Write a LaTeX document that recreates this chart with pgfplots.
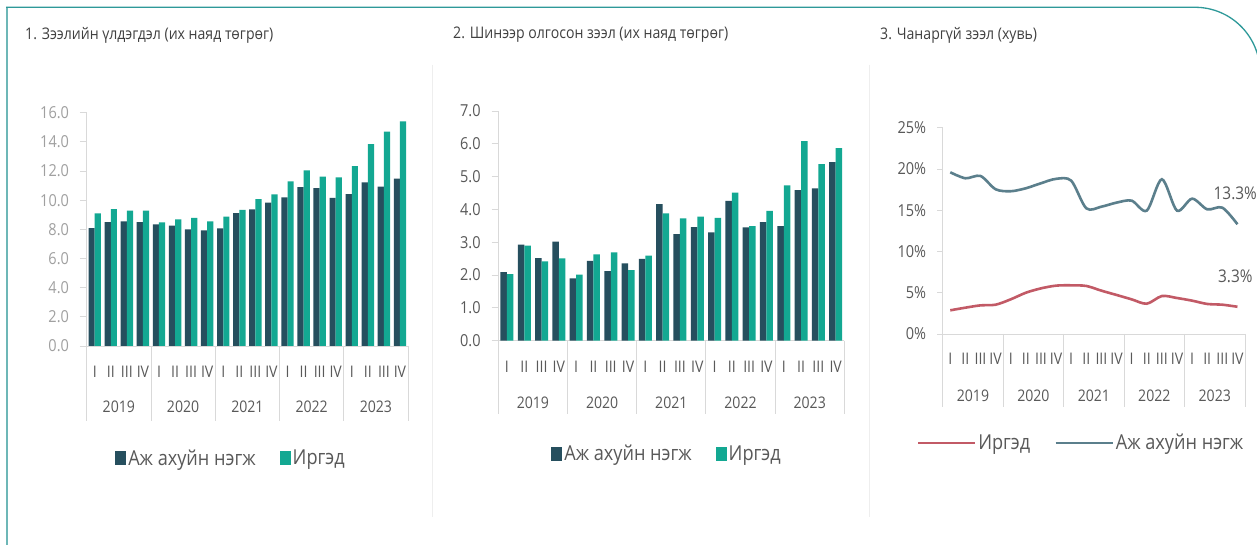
\documentclass[border=0pt]{standalone}
\usepackage{fontspec}
\setmainfont{Open Sans}[FakeStretch=0.88]
\usepackage{pgfplots}
\pgfplotsset{compat=1.18}
\definecolor{cdark}{HTML}{264F5E}
\definecolor{cteal}{HTML}{13A892}
\definecolor{cred}{HTML}{C25A66}
\definecolor{cblue}{HTML}{5B7F8C}
\definecolor{axcol}{HTML}{D9D9D9}
\definecolor{txt}{HTML}{595959}
\definecolor{txtl}{HTML}{A0A0A0}
\definecolor{ttl}{HTML}{404040}
\definecolor{frame}{HTML}{2E9999}
\definecolor{framel}{HTML}{6DB7B7}
\definecolor{divcol}{HTML}{EEEEEE}
\newcommand{\fs}[1]{\fontsize{#1}{#1}\selectfont}
\newcommand{\seps}[1]{%
  \draw[axcol, line width=0.9pt] (axis cs:0.5,0) -- ++(0pt,-#1);
  \draw[axcol, line width=0.9pt] (axis cs:4.5,0) -- ++(0pt,-#1);
  \draw[axcol, line width=0.9pt] (axis cs:8.5,0) -- ++(0pt,-#1);
  \draw[axcol, line width=0.9pt] (axis cs:12.5,0) -- ++(0pt,-#1);
  \draw[axcol, line width=0.9pt] (axis cs:16.5,0) -- ++(0pt,-#1);
  \draw[axcol, line width=0.9pt] (axis cs:20.5,0) -- ++(0pt,-#1);}
\newcommand{\years}[1]{%
  \node[yl] at (axis cs:2.5,0) [yshift=-#1] {2019};
  \node[yl] at (axis cs:6.5,0) [yshift=-#1] {2020};
  \node[yl] at (axis cs:10.5,0) [yshift=-#1] {2021};
  \node[yl] at (axis cs:14.5,0) [yshift=-#1] {2022};
  \node[yl] at (axis cs:18.5,0) [yshift=-#1] {2023};}
\tikzset{yl/.style={font=\fs{16}, text=txt, inner sep=0pt}}
\pgfplotsset{
  base/.style={scale only axis, axis lines*=left,
    axis line style={axcol, line width=0.9pt},
    xmin=0.5, xmax=20.5, ymin=0, tick align=outside, major tick length=6.7pt,
    xtick style={draw=none}, ytick style={axcol, line width=0.9pt},
    xtick={1,...,20},
    xticklabels={I,II,III,IV,I,II,III,IV,I,II,III,IV,I,II,III,IV,I,II,III,IV},
    xticklabel style={font=\fs{16}, text=txt, anchor=center, yshift=-19pt},
    yticklabel style={font=\fs{16.5}, text=txt, xshift=-7.5pt},
    clip=false,
    legend columns=2,
    legend cell align=left,
    legend style={draw=none, fill=none, font=\fs{20.6}, text=txt, anchor=center,
      /tikz/every even column/.append style={column sep=22pt},
      inner sep=0pt, row sep=0pt},
  },
  barsq/.style={legend image code/.code={\fill[##1] (0pt,-7pt) rectangle (11pt,7pt);}},
}
\begin{document}
\begin{tikzpicture}
\useasboundingbox (0,0) rectangle (1257pt,545pt);
\clip (0,0) rectangle (1257pt,545pt);
\fill[white] (0,0) rectangle (1257pt,545pt);
% frame
\draw[framel, line width=2.5pt] (7pt,538pt) -- (7pt,-5pt);
\draw[frame, line width=1.3pt] (6pt,537.7pt) -- (1195pt,537.7pt) arc[start angle=90, end angle=0, radius=65pt];
% dividers
\draw[divcol, line width=1pt] (432pt,480pt) -- (432pt,28pt);
\draw[divcol, line width=1pt] (869pt,480pt) -- (869pt,28pt);
% titles
\node[anchor=west, font=\fs{16}, text=ttl, inner sep=0pt] at (25pt,510pt) {1. Зээлийн үлдэгдэл (их наяд төгрөг)};
\node[anchor=west, font=\fs{16}, text=ttl, inner sep=0pt] at (453pt,510pt) {2. Шинээр олгосон зээл (их наяд төгрөг)};
\node[anchor=west, font=\fs{16}, text=ttl, inner sep=0pt] at (880pt,510pt) {3. Чанаргүй зээл (хувь)};

% panel 1
\begin{axis}[base, at={(86.7pt,199pt)}, anchor=south west,
  width=321.3pt, height=233.3pt, ymax=16,
  ybar=0pt, bar width=6.2pt,
  ytick={0,2,...,16},
  yticklabels={0.0,2.0,4.0,6.0,8.0,10.0,12.0,14.0,16.0},
  yticklabel style={text=txtl},
  legend style={at={(axis description cs:0.449,-0.48)}},
  barsq]
\addplot[fill=cdark, draw=none] coordinates {(1,8.09) (2,8.50) (3,8.55) (4,8.50) (5,8.34) (6,8.25) (7,8.00) (8,7.93) (9,8.07) (10,9.12) (11,9.37) (12,9.83) (13,10.19) (14,10.90) (15,10.83) (16,10.15) (17,10.42) (18,11.22) (19,10.93) (20,11.47)};
\addlegendentry{Аж ахуйн нэгж}
\addplot[fill=cteal, draw=none] coordinates {(1,9.10) (2,9.39) (3,9.28) (4,9.28) (5,8.48) (6,8.69) (7,8.78) (8,8.55) (9,8.87) (10,9.33) (11,10.08) (12,10.40) (13,11.29) (14,12.05) (15,11.61) (16,11.57) (17,12.34) (18,13.85) (19,14.70) (20,15.40)};
\addlegendentry{Иргэд}
\seps{75pt}
\years{61pt}
\end{axis}

% panel 2
\begin{axis}[base, at={(498.3pt,204.3pt)}, anchor=south west,
  width=346pt, height=229.7pt, ymax=7,
  ybar=0pt, bar width=6.5pt,
  ytick={0,1,...,7},
  yticklabels={0.0,1.0,2.0,3.0,4.0,5.0,6.0,7.0},
  legend style={at={(axis description cs:0.4876,-0.493)}},
  barsq]
\addplot[fill=cdark, draw=none] coordinates {(1,2.09) (2,2.93) (3,2.52) (4,3.02) (5,1.90) (6,2.43) (7,2.12) (8,2.36) (9,2.49) (10,4.16) (11,3.25) (12,3.46) (13,3.30) (14,4.26) (15,3.45) (16,3.61) (17,3.49) (18,4.59) (19,4.64) (20,5.44)};
\addlegendentry{Аж ахуйн нэгж}
\addplot[fill=cteal, draw=none] coordinates {(1,2.03) (2,2.90) (3,2.42) (4,2.51) (5,2.01) (6,2.63) (7,2.69) (8,2.15) (9,2.59) (10,3.88) (11,3.73) (12,3.78) (13,3.74) (14,4.51) (15,3.49) (16,3.96) (17,4.73) (18,6.08) (19,5.38) (20,5.87)};
\addlegendentry{Иргэд}
\seps{73pt}
\years{62pt}
\end{axis}

% panel 3
\begin{axis}[base, at={(942.7pt,211pt)}, anchor=south west,
  width=302.3pt, height=206.3pt, ymax=25,
  ytick={0,5,...,25},
  yticklabels={0\%,5\%,10\%,15\%,20\%,25\%},
  major tick length=5.5pt,
  legend style={at={(axis description cs:0.4575,-0.528)}},
  legend image code/.code={\draw[#1] (0pt,0pt) -- (57pt,0pt);}]
\addplot[cred, line width=2.6pt, smooth, tension=0.5] coordinates {(1,2.87) (2,3.19) (3,3.47) (4,3.55) (5,4.20) (6,5.00) (7,5.53) (8,5.86) (9,5.90) (10,5.82) (11,5.25) (12,4.73) (13,4.20) (14,3.67) (15,4.60) (16,4.36) (17,4.04) (18,3.64) (19,3.55) (20,3.30)};
\addlegendentry{Иргэд}
\addplot[cblue, line width=2.6pt, smooth, tension=0.5] coordinates {(1,19.60) (2,18.87) (3,19.15) (4,17.54) (5,17.30) (6,17.66) (7,18.27) (8,18.80) (9,18.58) (10,15.23) (11,15.43) (12,15.92) (13,16.16) (14,14.95) (15,18.75) (16,14.95) (17,16.40) (18,15.11) (19,15.31) (20,13.30)};
\addlegendentry{Аж ахуйн нэгж}
\node[anchor=west, font=\fs{17.5}, text=txt, inner sep=0pt] at (axis cs:20,13.3) [xshift=-24pt, yshift=31pt] {13.3\%};
\node[anchor=west, font=\fs{17.5}, text=txt, inner sep=0pt] at (axis cs:20,3.3) [xshift=-19.5pt, yshift=30.6pt] {3.3\%};
\seps{73pt}
\years{62pt}
\end{axis}
\end{tikzpicture}
\end{document}
